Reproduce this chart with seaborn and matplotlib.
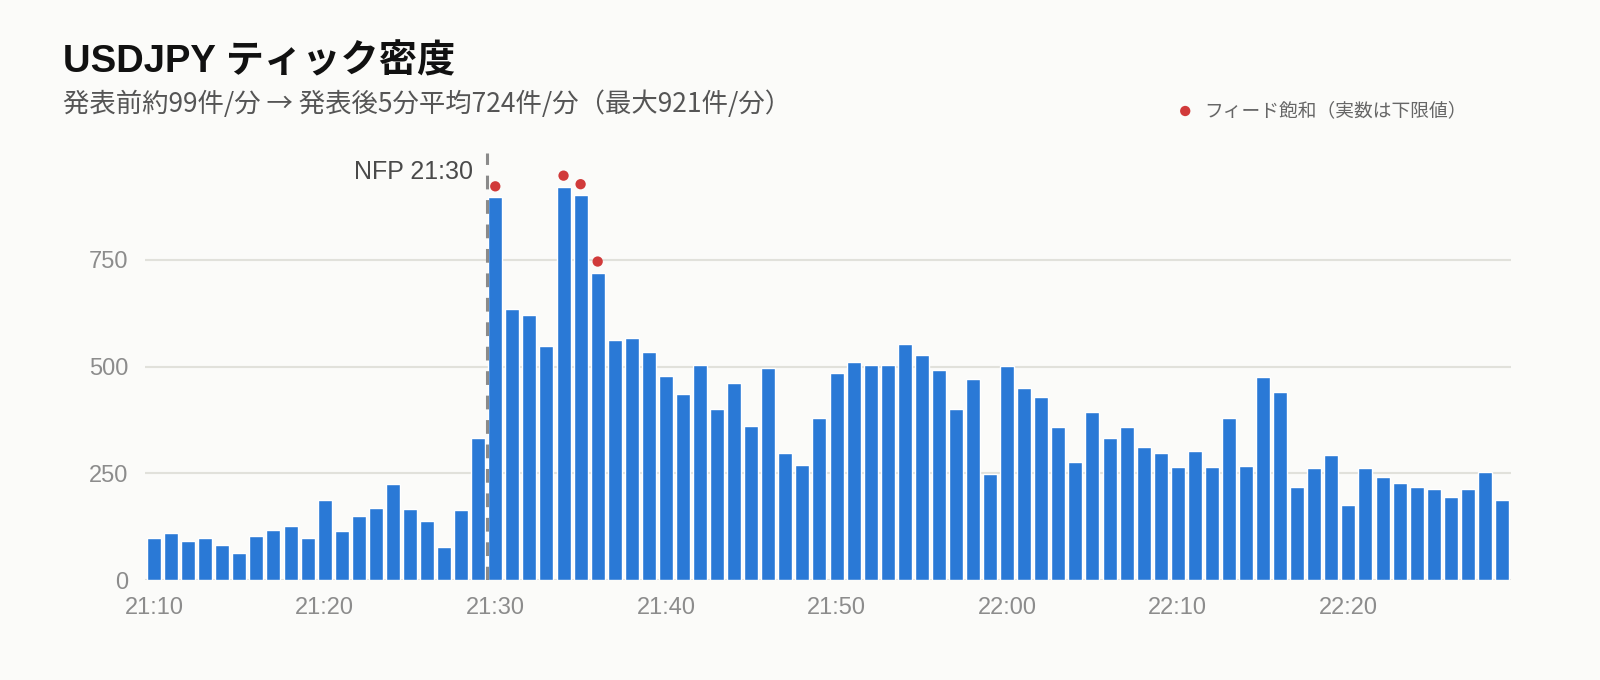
import seaborn as sns
import matplotlib.pyplot as plt
import pandas as pd

# Tick counts per minute, USDJPY around NFP release
minutes = [f"21:{m:02d}" for m in range(10, 60)] + [f"22:{m:02d}" for m in range(0, 30)]
ticks_per_min = [
    98, 110, 92, 98, 82, 63, 104, 117, 127, 100,
    188, 115, 150, 169, 225, 167, 139, 77, 164, 333,
    896, 634, 620, 549, 921, 901, 720, 563, 568, 534,
    477, 437, 503, 400, 461, 360, 498, 299, 271, 379,
    484, 512, 505, 505, 554, 528, 491, 402, 472, 248,
    502, 450, 429, 358, 277, 394, 334, 358, 313, 297,
    266, 303, 266, 380, 268, 475, 441, 219, 263, 294,
    177, 263, 242, 228, 219, 214, 195, 214, 253, 187,
]
# minutes where the feed hit its cap (real count is a lower bound)
saturated = ["21:30", "21:34", "21:35", "21:36"]
tick_labels = ["21:10", "21:20", "21:30", "21:40", "21:50", "22:00", "22:10", "22:20"]
release_minute = "21:30"

title = "USDJPY ティック密度"
subtitle = "発表前約99件/分 → 発表後5分平均724件/分（最大921件/分）"
legend_label = "フィード飽和（実数は下限値）"

bg = "#fbfbf9"
bar_color = "#2a79d6"
dot_color = "#d13a3a"
grid_color = "#e1e1db"

sns.set_style("white")
plt.rcParams['font.family'] = ['Liberation Sans', 'Noto Sans CJK JP', 'DejaVu Sans']

df = pd.DataFrame({"minute": minutes, "ticks": ticks_per_min})
df["pos"] = range(len(df))

fig = plt.figure(figsize=(16, 6.8), dpi=100, facecolor=bg)
ax = fig.add_axes([145 / 1600, 1 - 580.3 / 680, 1366 / 1600, (580.3 - 153) / 680])
ax.set_facecolor(bg)

sns.barplot(data=df, x="minute", y="ticks", color=bar_color, saturation=1,
            width=0.82, ax=ax, zorder=2)

# saturation markers sit a little above the bar
sat = df[df["minute"].isin(saturated)].copy()
sat["dot_y"] = sat["ticks"] + 26
sns.scatterplot(data=sat, x="pos", y="dot_y", color=dot_color, s=55,
                edgecolor="none", ax=ax, zorder=3, label=legend_label)

# release line
rel = minutes.index(release_minute) - 0.5
ax.axvline(rel, color="#8a8a8a", lw=2.2, ls=(0, (4.5, 3.5)), zorder=4)
ax.annotate("NFP 21:30", xy=(rel, 1000), xytext=(-10, -14), textcoords="offset points",
            ha="right", va="center", fontsize=18, color="#4a4a4a")

ax.set_xlim(-0.53, len(minutes) - 0.47)
ax.set_ylim(0, 1000)
ax.set_yticks([0, 250, 500, 750])
ax.set_xticks([minutes.index(t) for t in tick_labels])
ax.set_xticklabels(tick_labels)
ax.set_xlabel("")
ax.set_ylabel("")
ax.grid(axis="y", color=grid_color, lw=1.5, zorder=0)
ax.set_axisbelow(True)
ax.tick_params(axis="both", length=0, labelsize=17, colors="#8c8c8c")
ax.tick_params(axis="x", pad=12)
ax.tick_params(axis="y", pad=12)
sns.despine(ax=ax, left=True, bottom=True)

ax.legend(loc="center left", bbox_to_anchor=(1179.6 / 1600, 1 - 111 / 680),
          bbox_transform=fig.transFigure, frameon=False, fontsize=13.5,
          handlelength=0.6, handletextpad=0.7, borderpad=0, borderaxespad=0,
          labelcolor="#666666")

fig.text(63 / 1600, 1 - 72 / 680, title, fontsize=27.5, fontweight="bold",
         color="#111111", va="baseline", ha="left")
fig.text(63 / 1600, 1 - 104 / 680, subtitle, fontsize=19, color="#555555",
         va="center", ha="left", family=['Noto Sans CJK JP', 'DejaVu Sans'])

fig.savefig("out.png", dpi=100, facecolor=bg)
